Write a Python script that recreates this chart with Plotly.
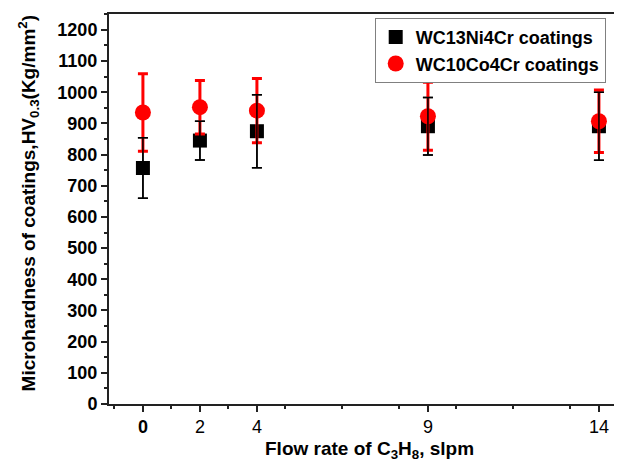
import plotly.graph_objects as go

# Data
flow_labels = ["0", "2", "4", "9", "14"]
axis_pos = [0, 2, 4, 10, 16]          # position of each flow rate on the (non-linear) x axis

ni_mean = [757, 845, 875, 891, 891]
ni_err = [97, 62, 117, 92, 109]

co_mean = [935, 952, 941, 923, 907]
co_err = [124, 86, 103, 109, 100]

y_ticks = list(range(0, 1201, 100))

x_title = "<b>Flow rate of C<sub>3</sub>H<sub>8</sub>, slpm</b>"
y_title = "<b>Microhardness of coatings,HV<sub>0.3</sub>(Kg/mm<sup>2</sup>)</b>"

FONT = "Liberation Sans, Arial, sans-serif"
XR = [-1.19, 17.09]

fig = go.Figure()

fig.add_trace(go.Scatter(
    x=axis_pos, y=ni_mean, mode="markers", name="WC13Ni4Cr coatings",
    marker=dict(symbol="square", size=14, color="black"),
    error_y=dict(type="data", array=ni_err, visible=True, color="black",
                 thickness=1.5, width=5),
))
fig.add_trace(go.Scatter(
    x=axis_pos, y=co_mean, mode="markers", name="WC10Co4Cr coatings",
    marker=dict(symbol="circle", size=16, color="#ff0000"),
    error_y=dict(type="data", array=co_err, visible=True, color="#ff0000",
                 thickness=3, width=5),
))
# black error bars drawn again on top of the red markers
fig.add_trace(go.Scatter(
    x=axis_pos, y=ni_mean, mode="markers", showlegend=False, hoverinfo="skip",
    marker=dict(size=1, color="rgba(0,0,0,0)"),
    error_y=dict(type="data", array=ni_err, visible=True, color="black",
                 thickness=1.5, width=5),
))

tick_text = ["<b>" + t + "</b>" if t == "0" else t for t in flow_labels]
unlabeled_major = [v for v in range(0, 17, 2) if v not in axis_pos]

fig.update_layout(
    width=622, height=469,
    margin=dict(l=101, r=0, t=6, b=73),
    paper_bgcolor="white", plot_bgcolor="white",
    font=dict(family=FONT, color="black", size=18),
    showlegend=True,
    legend=dict(
        x=0.51, y=0.99, xanchor="left", yanchor="top",
        bgcolor="white", bordercolor="#808080", borderwidth=1,
        font=dict(family=FONT, size=18, color="black", weight="bold"),
        itemsizing="trace", tracegroupgap=0,
    ),
    xaxis=dict(
        range=XR,
        tickmode="array", tickvals=axis_pos, ticktext=tick_text,
        ticks="outside", ticklen=6, tickwidth=1.5, tickcolor="#222",
        showline=True, linecolor="#222", linewidth=1.5, mirror=True,
        showgrid=False, zeroline=False,
        tickfont=dict(family=FONT, size=18, color="black"),
        minor=dict(tickvals=list(range(-1, 18, 2)), ticks="outside", ticklen=3,
                   tickwidth=1.5, tickcolor="#222", showgrid=False),
    ),
    xaxis2=dict(
        range=XR, overlaying="x", anchor="y", side="bottom",
        tickmode="array", tickvals=unlabeled_major, showticklabels=False,
        ticks="outside", ticklen=6, tickwidth=1.5, tickcolor="#222",
        showline=False, showgrid=False, zeroline=False,
    ),
    yaxis=dict(
        range=[0, 1251],
        tickmode="array", tickvals=y_ticks,
        ticktext=["<b>%d</b>" % v for v in y_ticks],
        ticks="outside", ticklen=6, tickwidth=1.5, tickcolor="#222",
        showline=True, linecolor="#222", linewidth=2, mirror=False,
        showgrid=False, zeroline=False,
        tickfont=dict(family=FONT, size=18, color="black"),
        minor=dict(dtick=50, tick0=0, ticks="outside", ticklen=3,
                   tickwidth=1.5, tickcolor="#222", showgrid=False),
    ),
    annotations=[
        dict(text=x_title, xref="paper", yref="paper", x=0.5, y=-0.117,
             xanchor="center", yanchor="middle", showarrow=False,
             font=dict(family=FONT, size=19, color="black")),
        dict(text=y_title, xref="paper", yref="paper", x=-0.155, y=0.515,
             xanchor="center", yanchor="middle", showarrow=False, textangle=-90,
             font=dict(family=FONT, size=19, color="black")),
    ],
)

fig.write_html("out.html")
